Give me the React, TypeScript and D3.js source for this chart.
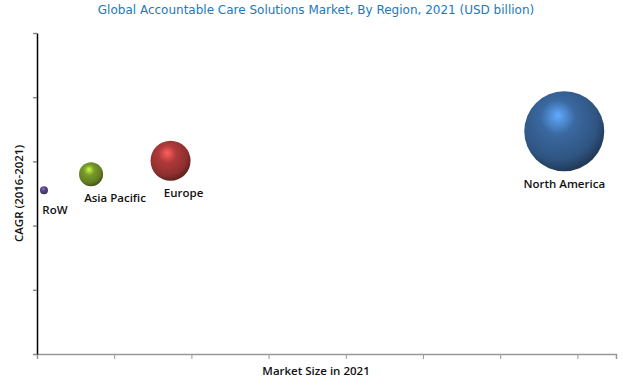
import { useEffect, useRef } from "react";
import * as d3 from "d3";

const regions = ["RoW", "Asia Pacific", "Europe", "North America"];
const marketSize = [0.09, 0.7, 1.73, 6.83];
const cagr = [2.55, 2.8, 3.01, 3.47];
const bubbleSize = [0.1, 0.9, 2.5, 10];
const baseColors = ["#5a4a8a", "#7a9a2a", "#b03a3a", "#3a68a0"];
const xTicks = [0, 1, 2, 3, 4, 5, 6, 7];
const yTicks = [0, 1, 2, 3, 4, 5];

export default function App() {
  const svgRef = useRef<SVGSVGElement>(null);

  useEffect(() => {
    if (!svgRef.current) return;
    const svg = d3.select(svgRef.current);
    svg.selectAll("*").remove();

    const width = 623;
    const height = 385;
    const margin = { top: 33, right: 7, bottom: 31, left: 37 };

    const x = d3.scaleLinear().domain([0, 7.5]).range([margin.left, width - margin.right]);
    const y = d3.scaleLinear().domain([0, 5]).range([height - margin.bottom, margin.top]);
    const r = d3.scaleSqrt().domain([0, 10]).range([0, 40]);

    // Title
    svg
      .append("text")
      .attr("x", 316)
      .attr("y", 14)
      .attr("text-anchor", "middle")
      .attr("fill", "#2478b8")
      .style("font-family", "DejaVu Sans, Verdana, sans-serif")
      .style("font-size", "12px")
      .text("Global Accountable Care Solutions Market, By Region, 2021 (USD billion)");

    // Gradients for the 3D spheres
    const defs = svg.append("defs");
    baseColors.forEach((c, i) => {
      const g = defs
        .append("radialGradient")
        .attr("id", `sphere${i}`)
        .attr("cx", "42%")
        .attr("cy", "38%")
        .attr("r", "62%")
        .attr("fx", "42%")
        .attr("fy", "30%");
      g.append("stop").attr("offset", "0%").attr("stop-color", d3.color(c)!.brighter(1.4).formatHex());
      g.append("stop").attr("offset", "35%").attr("stop-color", d3.color(c)!.formatHex());
      g.append("stop").attr("offset", "80%").attr("stop-color", d3.color(c)!.darker(0.6).formatHex());
      g.append("stop").attr("offset", "100%").attr("stop-color", d3.color(c)!.darker(1.6).formatHex());
    });

    // Axes
    const xAxis = svg
      .append("g")
      .attr("transform", `translate(0,${y(0)})`)
      .call(d3.axisBottom(x).tickValues(xTicks).tickSize(5).tickFormat(() => ""));
    xAxis.select(".domain").attr("stroke", "#999").attr("stroke-width", 1.5);
    xAxis.selectAll(".tick line").attr("stroke", "#999");

    const yAxis = svg
      .append("g")
      .attr("transform", `translate(${x(0)},0)`)
      .call(d3.axisLeft(y).tickValues(yTicks).tickSize(4).tickSizeOuter(0).tickFormat(() => ""));
    yAxis.select(".domain").attr("stroke", "#000").attr("stroke-width", 1.5);
    yAxis.selectAll(".tick line").attr("stroke", "#888").attr("stroke-width", 1.5);

    const labelFont = (sel: d3.Selection<any, any, any, any>) =>
      sel
        .attr("fill", "#111")
        .style("font-family", "Open Sans, sans-serif")
        .style("font-size", "11.5px")
        .style("font-weight", "600");

    // Axis titles
    svg
      .append("text")
      .attr("x", 316)
      .attr("y", 375)
      .attr("text-anchor", "middle")
      .call(labelFont)
      .text("Market Size in 2021");

    svg
      .append("text")
      .attr("transform", `translate(23,${(y(0) + y(5)) / 2}) rotate(-90)`)
      .attr("text-anchor", "middle")
      .call(labelFont)
      .text("CAGR (2016-2021)");

    // Bubbles
    const data = regions.map((name, i) => ({
      name,
      mx: marketSize[i],
      cg: cagr[i],
      size: bubbleSize[i],
      i,
    }));

    svg
      .append("g")
      .selectAll("circle")
      .data(data)
      .join("circle")
      .attr("cx", (d) => x(d.mx))
      .attr("cy", (d) => y(d.cg))
      .attr("r", (d) => r(d.size))
      .attr("fill", (d) => `url(#sphere${d.i})`);

    // Labels
    const labelOffset = [
      [11, 24],
      [24, 28],
      [13, 36],
      [0, 57],
    ];
    svg
      .append("g")
      .selectAll("text")
      .data(data)
      .join("text")
      .attr("x", (d) => x(d.mx) + labelOffset[d.i][0])
      .attr("y", (d) => y(d.cg) + labelOffset[d.i][1])
      .attr("text-anchor", "middle")
      .call(labelFont)
      .text((d) => d.name);
  }, []);

  return (
    <div style={{ position: "absolute", left: 0, top: 0, width: 623, height: 385 }}>
      <svg ref={svgRef} width={623} height={385} style={{ display: "block", background: "#fff" }}></svg>
    </div>
  );
}
